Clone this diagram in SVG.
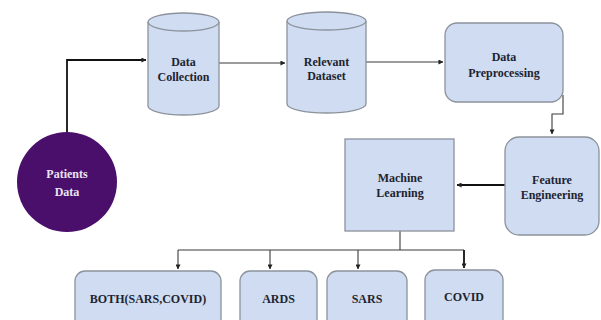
<svg xmlns="http://www.w3.org/2000/svg" width="601" height="320" viewBox="0 0 601 320">
  <defs>
    <marker id="arrow" viewBox="0 0 6 6" refX="5.5" refY="3" markerWidth="5" markerHeight="5" orient="auto" markerUnits="userSpaceOnUse">
      <path d="M0,0 L6,3 L0,6 z" fill="#222"/>
    </marker>
  </defs>
  <style>
    .box { fill: #cfdcf2; stroke: #8c929c; stroke-width: 1.3; }
    text { font-family: "Liberation Serif", "DejaVu Serif", serif; font-weight: bold; font-size: 12px; fill: #1e2430; text-anchor: middle; }
    .lbl-w { fill: #eae4f2; }
    .wire { fill: none; stroke: #3a3a3a; stroke-width: 1.1; }
    .wire-b { fill: none; stroke: #111; stroke-width: 1.8; }
  </style>
  <rect width="601" height="320" fill="#ffffff"/>

  <!-- connectors -->
  <g id="connectors">
    <path class="wire-b" d="M67,133 V60 H146" marker-end="url(#arrow)"/>
    <path class="wire" d="M219,63 H285" marker-end="url(#arrow)"/>
    <path class="wire" d="M366,62 H443" marker-end="url(#arrow)"/>
    <path class="wire" d="M563,95 V114 H552 V134" marker-end="url(#arrow)"/>
    <path class="wire-b" d="M505,185 H457" marker-end="url(#arrow)"/>
    <path class="wire" d="M400,231 V250"/>
    <path class="wire" d="M178,250 H464"/>
    <path class="wire" d="M178,250 V269" marker-end="url(#arrow)"/>
    <path class="wire" d="M270,250 V269" marker-end="url(#arrow)"/>
    <path class="wire" d="M358,250 V269" marker-end="url(#arrow)"/>
    <path class="wire-b" d="M464,250 V268" marker-end="url(#arrow)"/>
  </g>

  <g font-family="Liberation Serif, DejaVu Serif, serif" font-weight="bold" font-size="12">
    <!-- Patients Data -->
    <g id="patients-data">
      <circle cx="67" cy="182" r="50" fill="#4a0f6b"/>
      <text class="lbl-w" x="67" y="178">Patients</text>
      <text class="lbl-w" x="67" y="196">Data</text>
    </g>

    <!-- Data Collection -->
    <g id="data-collection">
      <path class="box" d="M148,22 V106 A35.5,9 0 0 0 219,106 V22"/>
      <ellipse class="box" cx="183.5" cy="22" rx="35.5" ry="9"/>
      <text x="183.5" y="66">Data</text>
      <text x="183.5" y="81">Collection</text>
    </g>

    <!-- Relevant Dataset -->
    <g id="relevant-dataset">
      <path class="box" d="M287,21 V104 A39.5,9 0 0 0 366,104 V21"/>
      <ellipse class="box" cx="326.5" cy="21" rx="39.5" ry="9"/>
      <text x="326.5" y="66">Relevant</text>
      <text x="326.5" y="80">Dataset</text>
    </g>

    <!-- Data Preprocessing -->
    <g id="data-preprocessing">
      <rect class="box" x="445" y="23" width="118" height="79" rx="12"/>
      <text x="504" y="61">Data</text>
      <text x="504" y="77">Preprocessing</text>
    </g>

    <!-- Feature Engineering -->
    <g id="feature-engineering">
      <rect class="box" x="505" y="137" width="94" height="98" rx="14"/>
      <text x="552" y="184">Feature</text>
      <text x="552" y="199">Engineering</text>
    </g>

    <!-- Machine Learning -->
    <g id="machine-learning">
      <rect class="box" x="345" y="139" width="109" height="92"/>
      <text x="400" y="182">Machine</text>
      <text x="400" y="197">Learning</text>
    </g>

    <!-- outcome classes -->
    <g id="both">
      <rect class="box" x="75" y="271" width="146" height="60" rx="10"/>
      <text x="148" y="303">BOTH(SARS,COVID)</text>
    </g>
    <g id="ards">
      <rect class="box" x="240" y="271" width="77" height="60" rx="10"/>
      <text x="278.5" y="303">ARDS</text>
    </g>
    <g id="sars">
      <rect class="box" x="327" y="271" width="80" height="60" rx="10"/>
      <text x="367" y="303">SARS</text>
    </g>
    <g id="covid">
      <rect class="box" x="425" y="270" width="78" height="61" rx="10"/>
      <text x="464" y="301">COVID</text>
    </g>
  </g>
</svg>
